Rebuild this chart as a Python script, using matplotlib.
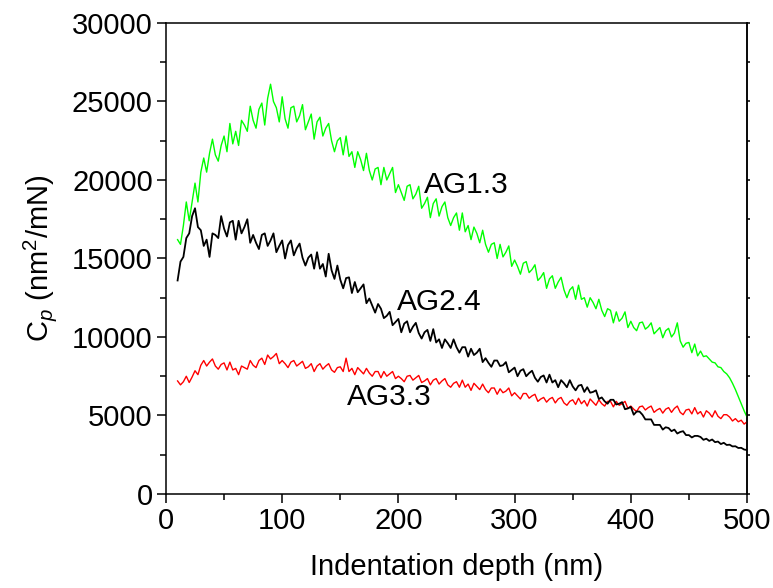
import numpy as np
import matplotlib
matplotlib.use("Agg")
from matplotlib import pyplot as plt
from matplotlib.ticker import MultipleLocator

plt.rcParams['font.family'] = ['Liberation Sans', 'DejaVu Sans']
plt.rcParams['mathtext.fontset'] = 'custom'
plt.rcParams['mathtext.rm'] = 'Liberation Sans'
plt.rcParams['mathtext.it'] = 'Liberation Sans:italic'

# indentation depth grid (nm), 2.5 nm steps from 10 to 500
depth = np.arange(10, 500.1, 2.5)

# Cp values, in hundreds of nm^2/mN
ag13 = [162, 159, 171, 186, 174, 186, 198, 186, 205, 214,
        205, 217, 226, 216, 212, 222, 228, 218, 236, 223,
        231, 222, 238, 235, 231, 247, 238, 233, 245, 249,
        235, 252, 261, 250, 246, 237, 253, 239, 233, 246,
        247, 237, 241, 248, 232, 237, 242, 226, 237, 240,
        228, 233, 236, 225, 218, 225, 227, 216, 228, 215,
        218, 208, 218, 213, 206, 217, 206, 200, 207, 208,
        197, 208, 200, 204, 208, 192, 197, 192, 187, 196,
        197, 188, 191, 196, 182, 185, 189, 176, 185, 188,
        177, 183, 186, 176, 171, 176, 179, 168, 179, 167,
        171, 162, 170, 166, 160, 168, 159, 154, 159, 160,
        150, 159, 151, 154, 158, 145, 149, 145, 140, 147,
        148, 141, 143, 146, 136, 138, 141, 131, 137, 139,
        131, 135, 138, 130, 125, 130, 132, 124, 133, 124,
        125, 119, 125, 122, 118, 124, 117, 113, 118, 117,
        109, 116, 110, 112, 116, 106, 110, 106, 104, 109,
        109.5, 105, 106.5, 109, 102, 104, 106, 99.5, 104, 105.5,
        100, 102.5, 109, 97.5, 93.5, 96, 96.5, 90, 95.5, 88,
        91, 87.5, 88, 86, 84, 83.5, 81, 80.5, 78, 76.5,
        74, 70.5, 66.5, 62, 57.5, 53, 49]

ag24 = [136, 148, 151, 163, 166, 177, 182, 170, 168, 158,
        162, 151, 166, 165, 163, 177, 169, 164, 173, 174,
        162, 174, 166, 170, 175, 160, 165, 160, 156, 165,
        166, 158, 161.5, 166, 154, 158, 161.5, 150, 158.5, 161.5,
        152, 156.5, 159.5, 150.5, 145.5, 150.5, 152.5, 143.5, 154, 143.5,
        146.5, 138.5, 153, 142.5, 137, 145.5, 136.5, 131, 137.5, 138,
        128, 135, 128.5, 131, 133.5, 121.5, 124.5, 120, 115.5, 121,
        118, 112, 113.5, 116, 107.5, 109.5, 111.5, 103, 108.5, 110,
        103, 106.5, 109, 102.5, 99, 103, 104.5, 97.5, 105, 96.5,
        98.5, 93, 98.5, 96, 93, 98.5, 93.5, 90, 93.5, 93.5,
        87.5, 92.5, 88.5, 90, 92.5, 84, 86.5, 83.5, 81, 85,
        85, 81.5, 82, 84, 77.5, 79, 80.5, 75, 78.5, 79.5,
        75, 77, 78.5, 74, 71.5, 74.5, 75.5, 71, 76, 71,
        72.5, 68, 72.5, 70.5, 68, 72.5, 68.5, 66, 69, 69.5,
        65, 68, 64.5, 65, 66, 60.5, 61.5, 59, 57.5, 60,
        60, 57, 57.5, 58.5, 54, 54.5, 55.5, 50.5, 52.5, 52.5,
        50.5, 47.5, 47.5, 47.5, 44, 44, 44, 41, 42.5, 42,
        40, 41, 38.5, 39.5, 40, 37.5, 37.5, 36, 37, 37,
        36.3, 34.5, 35.2, 33.8, 34.7, 33, 33.4, 31.8, 32.6, 31.2,
        31.4, 30.3, 30.4, 29.3, 29.4, 28.3, 28]

ag33 = [72, 69.5, 71.5, 75, 71, 74.5, 78.5, 76, 82, 85,
        81.5, 84, 86, 81.5, 79.5, 82.5, 83.5, 79, 84, 79,
        80, 76, 81.5, 80.5, 79.5, 85, 82, 80.5, 85, 86.5,
        82.5, 88.5, 86, 87.5, 89.5, 83, 85, 83, 80.5, 84,
        85, 81.5, 83, 84.5, 80, 81, 83, 78, 81.5, 83,
        79.5, 81.5, 83, 79, 77.5, 80.5, 81, 78, 86.5, 78,
        80, 76, 80.5, 78.5, 76.5, 80, 77, 75, 78, 78,
        74, 78, 75, 76.5, 78, 73.5, 75, 73.5, 71.5, 75,
        75.5, 72.5, 74, 75.5, 71, 72, 73.5, 69.5, 72.5, 73.5,
        70, 72, 73.5, 69.5, 68, 70.5, 71.5, 68, 72.5, 68,
        70, 66, 70.5, 68.5, 66.5, 70, 66.5, 64.5, 67.5, 67.5,
        63.5, 67, 64.5, 65.5, 67.5, 62.5, 64.5, 62.5, 60.5, 64,
        64, 61, 62.5, 63.5, 59, 60.5, 61.5, 58.5, 60.5, 61.5,
        58, 60.5, 61.5, 58, 56.5, 59, 60, 57, 61, 57.5,
        59.5, 56, 60.5, 58.5, 56.5, 60, 57.5, 56, 59, 59,
        55.5, 59, 56.5, 57.5, 59, 54.5, 56, 54, 52.5, 55.5,
        56, 53.5, 55, 56, 52, 53.5, 54.5, 51.5, 54, 55,
        52, 54.5, 56, 52, 50.5, 53.5, 54, 51, 55, 51,
        52.5, 49, 53, 51.5, 49, 53, 49.5, 48, 50.5, 50.5,
        49, 46.5, 48, 46, 47, 44.5, 46]

labels = ["AG1.3", "AG2.4", "AG3.3"]
label_pos = [(222, 19700), (199, 12250), (156, 6200)]

fig = plt.figure(figsize=(7.73, 5.88), dpi=100)
ax = fig.add_axes([0.2147, 0.1599, 0.7517, 0.8010])

ax.plot(depth, np.array(ag13) * 100, color="#00ff00", lw=1.0)
ax.plot(depth, np.array(ag33) * 100, color="#ff0000", lw=1.0)
ax.plot(depth, np.array(ag24) * 100, color="black", lw=1.3)

for txt, (x, y) in zip(labels, label_pos):
    ax.text(x, y, txt, fontsize=21.5, ha="left", va="center")

ax.set_xlim(0, 500)
ax.set_ylim(0, 30000)
ax.xaxis.set_major_locator(MultipleLocator(100))
ax.xaxis.set_minor_locator(MultipleLocator(50))
ax.yaxis.set_major_locator(MultipleLocator(5000))
ax.yaxis.set_minor_locator(MultipleLocator(2500))

ax.tick_params(which="major", direction="out", length=6.5, width=1.1,
               labelsize=21, pad=3, top=False, right=False)
ax.tick_params(which="minor", direction="out", length=4, width=1.1,
               top=False, right=False)
for s in ax.spines.values():
    s.set_linewidth(1.1)

# short ticks on the right spine, no labels
sec = ax.secondary_yaxis("right")
sec.yaxis.set_major_locator(MultipleLocator(5000))
sec.yaxis.set_minor_locator(MultipleLocator(2500))
sec.tick_params(which="both", direction="out", length=2.2, width=1.1,
                labelright=False)
sec.spines["right"].set_linewidth(1.1)

ax.set_xlabel("Indentation depth (nm)", fontsize=21, labelpad=13)
ax.set_ylabel("C$_{\\mathit{p}}$ (nm$^{2}$/mN)", fontsize=21, labelpad=9)

fig.savefig("out.png", dpi=100)
